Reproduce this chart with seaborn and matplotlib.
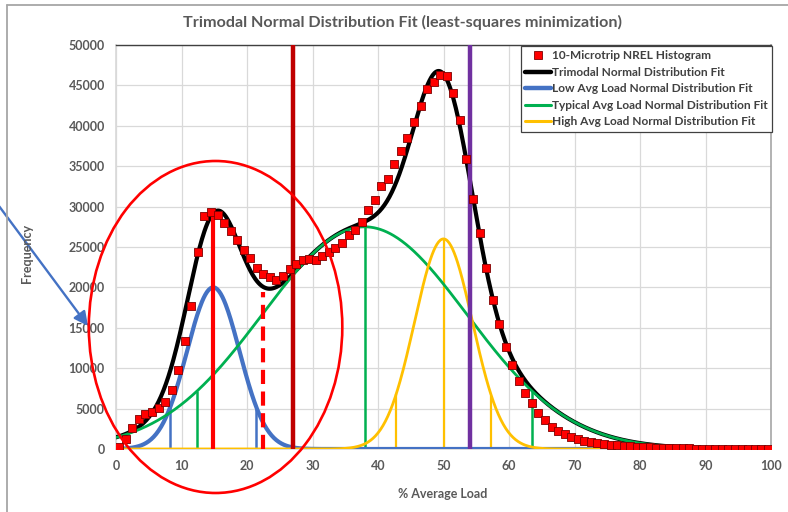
import numpy as np
import pandas as pd
import matplotlib
matplotlib.use("Agg")
import matplotlib.pyplot as plt
import seaborn as sns
from matplotlib.patches import Ellipse
from matplotlib.lines import Line2D

# ---------------- data ----------------
# histogram bin centres (% average load) and counts
bin_centers = np.arange(0.5, 100.0, 1.0)
hist_counts = [
    210, 1200, 2560, 3710, 4290, 4540, 5030, 5860, 7300, 9740,
    13370, 17700, 24340, 28800, 29370, 28960, 27970, 26980, 25870, 24630,
    23600, 22360, 21700, 21290, 20950, 21370, 22280, 22860, 23350, 23510,
    23430, 23920, 24340, 24840, 25460, 26490, 27100, 28090, 29580, 30860,
    32590, 33450, 35270, 36920, 38490, 40510, 42490, 44550, 45380, 46290,
    46160, 44080, 40700, 35850, 30980, 26730, 22360, 18480, 15470, 12660,
    10430, 8450, 6890, 5730, 4460, 3640, 2760, 2270, 1860, 1450,
    1200, 1030, 900, 740, 620, 500, 450, 370, 330, 210,
    200, 190, 120, 110, 100, 90, 80, 70, 60, 60,
    50, 50, 50, 40, 40, 40, 40, 30, 30, 30,
]

# fitted normal components: (mean, std dev, amplitude)
low_fit = (14.85, 4.0, 20000)
typical_fit = (37.95, 15.6, 27500)
high_fit = (50.0, 4.41, 26000)

# interval markers (x positions) for each component
low_bounds = [8.3, 21.4]
typical_marks = [12.3, 37.95, 63.5]
high_marks = [42.8, 50.0, 57.3]

# mode / antimode / threshold markers
mode_x = 14.8
antimode_x = 22.5
antimode_top = 19400
threshold_low = 27.0
threshold_high = 54.0

x_ticks = list(range(0, 101, 10))
y_ticks = list(range(0, 50001, 5000))

title = "Trimodal Normal Distribution Fit (least-squares minimization)"
labels = ["10-Microtrip NREL Histogram",
          "Trimodal Normal Distribution Fit",
          "Low Avg Load Normal Distribution Fit",
          "Typical Avg Load Normal Distribution Fit",
          "High Avg Load Normal Distribution Fit"]

# ---------------- style ----------------
sns.set_theme(style="white")
plt.rcParams["font.family"] = ["Lato", "DejaVu Sans"]
TXT = "#595959"

def gauss(x, p):
    mu, sd, amp = p
    return amp * np.exp(-((np.asarray(x) - mu) ** 2) / (2 * sd ** 2))

def trimodal(x):
    return gauss(x, low_fit) + gauss(x, typical_fit) + gauss(x, high_fit)

x_fit = np.linspace(0, 100, 801)
curves = pd.DataFrame({
    "x": x_fit,
    "tri": trimodal(x_fit),
    "low": gauss(x_fit, low_fit),
    "typ": gauss(x_fit, typical_fit),
    "high": gauss(x_fit, high_fit),
})
hist = pd.DataFrame({"x": bin_centers, "count": hist_counts})

W, H = 788, 512
fig = plt.figure(figsize=(W / 100, H / 100), dpi=100)
L, R, B, T = 116, 771, 449, 45
ax = fig.add_axes([L / W, 1 - B / H, (R - L) / W, (B - T) / H])

BLACK = "#000000"
BLUE = "#4472C4"
GREEN = "#00B050"
YELLOW = "#FFC000"

# vertical interval lines
ax.vlines(low_bounds, 0, gauss(low_bounds, low_fit), color=BLUE, lw=1.8, zorder=2)
ax.vlines(typical_marks, 0, gauss(typical_marks, typical_fit), color=GREEN, lw=1.8, zorder=2)
ax.vlines(high_marks, 0, gauss(high_marks, high_fit), color=YELLOW, lw=1.6, zorder=2)

# curves
sns.lineplot(data=curves, x="x", y="tri", ax=ax, color=BLACK, lw=3.0, zorder=3)
sns.lineplot(data=curves, x="x", y="low", ax=ax, color=BLUE, lw=3.0, zorder=3.1)
sns.lineplot(data=curves, x="x", y="typ", ax=ax, color=GREEN, lw=2.0, zorder=3.2)
sns.lineplot(data=curves, x="x", y="high", ax=ax, color=YELLOW, lw=2.0, zorder=3.3)

# mode / antimode / thresholds
ax.vlines([mode_x], 0, trimodal([mode_x]), color="#FF0000", lw=3.0, zorder=4)
ax.vlines([antimode_x], 0, [antimode_top], color="#FF0000", lw=3.0,
          linestyles=(0, (3.4, 1.8)), zorder=4)
ax.axvline(threshold_low, color="#C00000", lw=3.2, zorder=4)
ax.axvline(threshold_high, color="#7030A0", lw=3.2, zorder=4)

# histogram squares
sns.scatterplot(data=hist, x="x", y="count", ax=ax, marker="s", s=28,
                color="#FF0000", edgecolor="#7F0000", linewidth=0.6, zorder=6)

# axes
ax.set_xlim(0, 100)
ax.set_ylim(0, 50000)
ax.set_xticks(x_ticks)
ax.set_yticks(y_ticks)
ax.set_xticklabels([str(v) for v in x_ticks])
ax.set_yticklabels([str(v) for v in y_ticks])
ax.tick_params(axis="both", length=0, labelsize=9, labelcolor=TXT, pad=8)
for lab in ax.get_xticklabels() + ax.get_yticklabels():
    lab.set_fontweight("bold")
ax.grid(True, color="#D9D9D9", lw=0.9)
ax.set_axisbelow(True)
ax.set_xlabel("")
ax.set_ylabel("")
ax.spines["top"].set_color("#404040")
ax.spines["top"].set_linewidth(1.0)
ax.spines["right"].set_color("#A6A6A6")
ax.spines["right"].set_linewidth(1.2)
ax.spines["left"].set_color("#D9D9D9")
ax.spines["bottom"].set_color("#D9D9D9")

# circle highlighting the low-load mode
ell = Ellipse((15.2, 15100), width=38.7, height=41090, fill=False,
              edgecolor="#FF0000", lw=1.9, clip_on=False, zorder=7)
ax.add_patch(ell)

# legend
handles = [
    Line2D([], [], ls="none", marker="s", markersize=5.5, markerfacecolor="#FF0000",
           markeredgecolor="#7F0000", markeredgewidth=0.6),
    Line2D([], [], color=BLACK, lw=3.2),
    Line2D([], [], color=BLUE, lw=3.2),
    Line2D([], [], color=GREEN, lw=2.2),
    Line2D([], [], color=YELLOW, lw=2.2),
]
leg = ax.legend(handles, labels, loc="upper right", bbox_to_anchor=(1.002, 0.997),
                borderaxespad=0, frameon=True, fancybox=False, framealpha=1,
                edgecolor="#404040", prop={"size": 8.6, "weight": "bold"},
                handlelength=2.2, handletextpad=0.1, labelspacing=0.46,
                borderpad=0.35)
leg.get_frame().set_linewidth(0.9)
leg.set_zorder(10)
for t in leg.get_texts():
    t.set_color("#404040")

# texts
fig.text(403 / W, 1 - 22 / H, title, ha="center", va="center",
         fontsize=11.6, fontweight="bold", color=TXT)
fig.text(443 / W, 1 - 494 / H, "% Average Load", ha="center", va="center",
         fontsize=9, fontweight="bold", color=TXT)
fig.text(27 / W, 1 - 253 / H, "Frequency", ha="center", va="center",
         rotation=90, fontsize=9, fontweight="bold", color=TXT)

# blue pointer arrow
ax.annotate("", xy=(88, H - 326), xycoords="figure pixels",
            xytext=(-4, H - 202), textcoords="figure pixels",
            arrowprops=dict(arrowstyle="-|>", color=BLUE, lw=1.7,
                            mutation_scale=21, shrinkA=0, shrinkB=0),
            annotation_clip=False)

# chart frame fragments
fig.add_artist(Line2D([7 / W, 7 / W], [0, 1 - 5 / H], transform=fig.transFigure,
                      color="#A6A6A6", lw=1.3))
fig.add_artist(Line2D([7 / W, 1], [1 - 5 / H, 1 - 5 / H], transform=fig.transFigure,
                      color="#A6A6A6", lw=1.3))

fig.savefig("out.png", dpi=100)
